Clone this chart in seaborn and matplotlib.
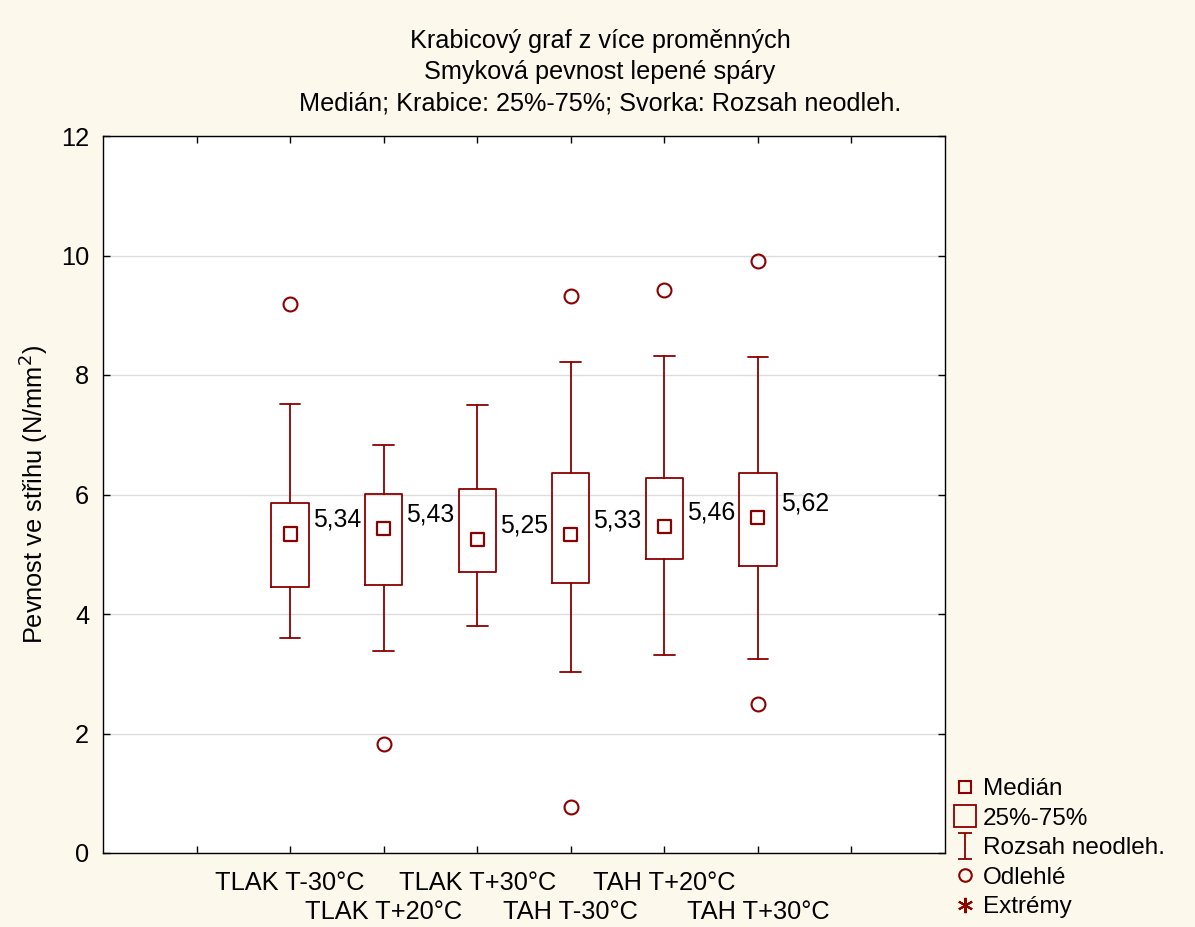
import matplotlib
matplotlib.use("Agg")
import matplotlib.pyplot as plt
import seaborn as sns
import numpy as np
from matplotlib.lines import Line2D
from matplotlib.path import Path

categories = ["TLAK T-30°C", "TLAK T+20°C", "TLAK T+30°C", "TAH T-30°C", "TAH T+20°C", "TAH T+30°C"]
medians = [5.34, 5.43, 5.25, 5.33, 5.46, 5.62]
q1 = [4.45, 4.49, 4.70, 4.52, 4.92, 4.80]
q3 = [5.86, 6.01, 6.09, 6.36, 6.28, 6.36]
whisk_lo = [3.60, 3.38, 3.80, 3.03, 3.31, 3.25]
whisk_hi = [7.52, 6.83, 7.50, 8.22, 8.32, 8.30]
outliers = [[9.19], [1.82], [], [9.32, 0.77], [9.42], [9.91, 2.49]]
median_labels = ["5,34", "5,43", "5,25", "5,33", "5,46", "5,62"]
yticks = [0, 2, 4, 6, 8, 10, 12]

sns.set_theme(style="white")
plt.rcParams['font.family'] = ['Liberation Sans', 'DejaVu Sans']
plt.rcParams['text.color'] = 'black'
plt.rcParams['axes.labelcolor'] = 'black'

RED = "#8b0000"
BG = "#fdf8ec"
FS = 18.3

fig = plt.figure(figsize=(11.95, 9.27), dpi=100, facecolor=BG)
ax = fig.add_axes([103/1195, 1-853/927, (945-103)/1195, (853-136)/927])
ax.set_facecolor("white")

stats = []
for i, c in enumerate(categories):
    stats.append(dict(med=medians[i], q1=q1[i], q3=q3[i], whislo=whisk_lo[i],
                      whishi=whisk_hi[i], fliers=outliers[i], label=c))
pos = np.arange(len(categories))
ax.bxp(stats, positions=pos, widths=0.4, showfliers=True, patch_artist=False,
       boxprops=dict(color=RED, lw=1.3),
       whiskerprops=dict(color=RED, lw=1.3),
       capprops=dict(color=RED, lw=1.3),
       medianprops=dict(lw=0),
       flierprops=dict(marker='o', markersize=10, markerfacecolor='none',
                       markeredgecolor=RED, markeredgewidth=1.5),
       capwidths=0.22)
sns.scatterplot(x=pos, y=medians, ax=ax, marker='s', s=90, facecolor='none',
                edgecolor=RED, linewidth=1.6, zorder=5, legend=False)
for i, lab in enumerate(median_labels):
    ax.annotate(lab, (pos[i] + 0.2, medians[i]), xytext=(4, 7), textcoords='offset pixels',
                ha='left', va='baseline', fontsize=17.8, color='black')

ax.set_xlim(-2, 7)
ax.set_ylim(0, 12)
ax.set_yticks(yticks)
ax.set_yticklabels([str(v) for v in yticks], fontsize=FS)

# staggered category labels: even ones on major ticks, odd ones on minor ticks (lower row)
major_pos = [-1, 0, 2, 4, 6]
major_lab = ["", categories[0], categories[2], categories[4], ""]
minor_pos = [1, 3, 5]
minor_lab = [categories[1], categories[3], categories[5]]
ax.set_xticks(major_pos)
ax.set_xticklabels(major_lab, fontsize=FS)
ax.set_xticks(minor_pos, minor=True)
ax.set_xticklabels(minor_lab, minor=True, fontsize=FS)

ax.yaxis.grid(True, color="#dddddd", lw=1)
ax.xaxis.grid(False)
ax.set_axisbelow(True)
ax.tick_params(which='both', direction='in', length=5, width=1, color='black', top=True, right=True,
               bottom=True, left=True, labelcolor='black')
ax.tick_params(axis='y', pad=10)
ax.tick_params(axis='x', which='major', pad=13)
ax.tick_params(axis='x', which='minor', pad=34)
for s in ax.spines.values():
    s.set_visible(True)
    s.set_color('black')
    s.set_linewidth(1)

ax.set_ylabel("Pevnost ve střihu (N/mm$^2$)", fontsize=FS, labelpad=7)

TFS = 18.2
fig.text(0.502, 1-41/927, "Krabicový graf z více proměnných", ha='center', va='center', fontsize=TFS)
fig.text(0.502, 1-72/927, "Smyková pevnost lepené spáry", ha='center', va='center', fontsize=TFS)
fig.text(0.502, 1-104/927, "Medián; Krabice: 25%-75%; Svorka: Rozsah neodleh.", ha='center', va='center', fontsize=TFS)

ibeam = Path([(-0.5, 1), (0.5, 1), (0, 1), (0, -1), (-0.5, -1), (0.5, -1)],
             [Path.MOVETO, Path.LINETO, Path.MOVETO, Path.LINETO, Path.MOVETO, Path.LINETO])
handles = [
    Line2D([], [], ls='none', marker='s', markersize=9, markerfacecolor='none', markeredgecolor=RED, markeredgewidth=1.5),
    Line2D([], [], ls='none', marker='s', markersize=16, markerfacecolor='none', markeredgecolor=RED, markeredgewidth=1.3),
    Line2D([], [], ls='none', marker=ibeam, markersize=19, markerfacecolor='none', markeredgecolor=RED, markeredgewidth=1.3),
    Line2D([], [], ls='none', marker='o', markersize=9, markerfacecolor='none', markeredgecolor=RED, markeredgewidth=1.5),
    Line2D([], [], ls='none', marker=(6, 2, 0), markersize=11, markerfacecolor='none', markeredgecolor=RED, markeredgewidth=1.5),
]
labels = ["Medián", "25%-75%", "Rozsah neodleh.", "Odlehlé", "Extrémy"]
fig.legend(handles, labels, loc='upper left', bbox_to_anchor=(955/1195, 1-778/927),
           frameon=False, fontsize=17.5, handlelength=0.8, handletextpad=0.35,
           labelspacing=0.31, borderpad=0, borderaxespad=0)

fig.savefig("out.png", dpi=100, facecolor=BG)
